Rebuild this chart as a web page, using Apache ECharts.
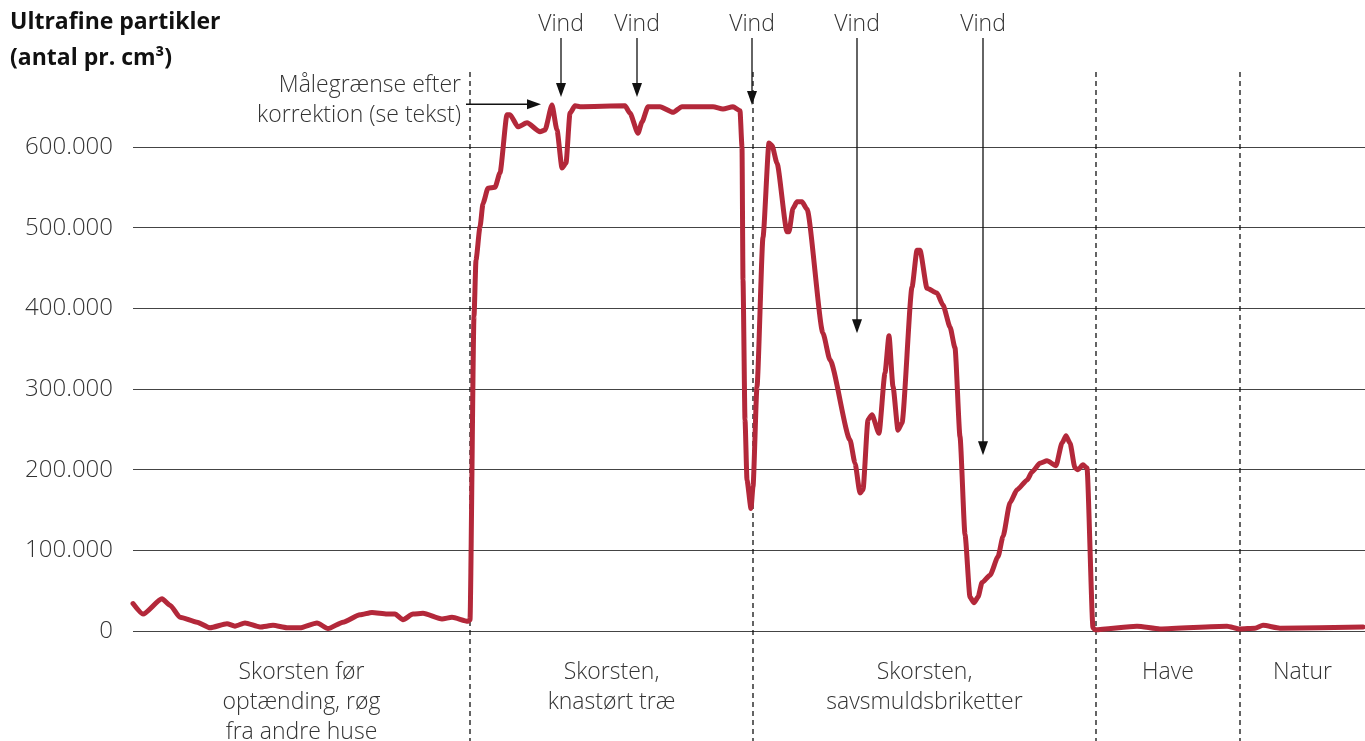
<!DOCTYPE html>
<html>
<head>
<meta charset="utf-8">
<script src="https://cdn.jsdelivr.net/npm/echarts@6/dist/echarts.min.js"></script>
<style>
html,body{margin:0;padding:0;background:#fff}
#chart{width:1365px;height:741px}
</style>
</head>
<body>
<div id="chart"></div>
<script>
// tid (vilkaarlig enhed langs x) og partikler (tusinder pr. cm3)
var timeX = [0,10,29,37,47,64,77,94,102,112,127,140,154,167,184,195,210,227,239,254,262,270,280,290,309,319,335,
  337,341,343,347,350,355,362,367,374,377,385,394,407,412,419,424,429,433,437,442,447,492,497,505,509,515,527,540,549,580,590,600,607,609,610,612,614,618,620,624,630,636,639,644,654,656,660,664,669,674,690,697,717,722,727,730,735,739,746,752,756,760,765,769,779,784,787,794,804,810,817,822,827,832,837,841,845,849,857,865,870,877,884,894,899,907,914,923,929,933,937,942,945,950,954,960,962,1004,1027,1094,1107,1122,1130,1147,1230];
var particles = [34,21,40,32,17,11,4,9,6,10,5,7,4,4,10,3,11,20,23,21,21,14,21,22,15,17,12,
  14,390,460,501,530,549,550,568,640,640,625,630,619,621,652,621,574,580,642,651,650,651,642,617,631,650,650,643,650,650,647,650,645,600,435,262,187,152,179,303,488,605,602,580,495,495,524,532,532,523,369,336,237,208,171,175,262,268,245,320,366,303,249,258,426,472,472,425,419,404,377,351,241,120,42,35,42,60,69,92,117,159,175,187,197,208,211,205,233,242,233,202,200,206,202,4,1.5,6,2.5,6,2.5,3.5,7,3.5,5];

var yTicks = [0,100000,200000,300000,400000,500000,600000];
var sectionBounds = [0,337,620,963,1107,1232];
var sectionLabels = ['Skorsten før\noptænding, røg\nfra andre huse','Skorsten,\nknastørt træ','Skorsten,\nsavsmuldsbriketter','Have','Natur'];
var vindX = [428,504,619,724,850];
var vindTip = [662000,662000,652000,369000,218000];
var limitArrow = {from:333, to:408, value:653000};

var lineData = timeX.map(function(t,i){ return [t, particles[i]*1000]; });

var chart = echarts.init(document.getElementById('chart'));
var FONT = '"Open Sans", Lato, sans-serif';

var option = {
  animation:false,
  grid:{left:133,right:0,top:147,bottom:110},
  xAxis:{type:'value',min:0,max:1232,show:false},
  yAxis:{
    type:'value',min:0,max:600000,interval:100000,
    axisLine:{show:false},axisTick:{show:false},
    axisLabel:{margin:20,color:'#333',fontSize:24,fontWeight:300,fontFamily:FONT,
      formatter:function(v){ return v===0 ? '0' : (v/1000)+'.000'; }},
    splitLine:{lineStyle:{color:'#444',width:1}}
  },
  series:[{
    type:'line',data:lineData,showSymbol:false,clip:false,
    smooth:0.2,smoothMonotone:'x',
    lineStyle:{color:'#B3283A',width:5,join:'round',cap:'round'}
  }]
};
chart.setOption(option);

// annotationer
var g = [];
function px(x,y){ return chart.convertToPixel({gridIndex:0},[x,y]); }

g.push({type:'text',style:{text:'Ultrafine partikler',x:10,y:22,fontSize:23,fontWeight:'bold',fontFamily:FONT,fill:'#111',verticalAlign:'middle'}});
g.push({type:'text',style:{text:'(antal pr. cm³)',x:10,y:58,fontSize:23,fontWeight:'bold',fontFamily:FONT,fill:'#111',verticalAlign:'middle'}});

// skillelinjer
for(var i=1;i<sectionBounds.length-1;i++){
  var p = px(sectionBounds[i],0);
  g.push({type:'line',shape:{x1:p[0],y1:72,x2:p[0],y2:741},style:{stroke:'#111',lineWidth:1.3,lineDash:[5,4]}});
}
// sektionsetiketter
for(var j=0;j<sectionLabels.length;j++){
  var c = px((sectionBounds[j]+sectionBounds[j+1])/2,0);
  g.push({type:'text',style:{text:sectionLabels[j],x:c[0],y:657,align:'center',verticalAlign:'top',fontSize:23,fontWeight:300,lineHeight:30,fontFamily:FONT,fill:'#333'}});
}
// vind-pile
vindX.forEach(function(vx,k){
  var tip = px(vx,vindTip[k]);
  g.push({type:'text',style:{text:'Vind',x:tip[0],y:24,align:'center',verticalAlign:'middle',fontSize:23,fontWeight:300,fontFamily:FONT,fill:'#333'}});
  g.push({type:'line',shape:{x1:tip[0],y1:38,x2:tip[0],y2:tip[1]-10},style:{stroke:'#111',lineWidth:1.3}});
  g.push({type:'polygon',shape:{points:[[tip[0]-5,tip[1]-14],[tip[0]+5,tip[1]-14],[tip[0],tip[1]]]},style:{fill:'#111'}});
});
// maalegraense-pil
var a0 = px(limitArrow.from,limitArrow.value), a1 = px(limitArrow.to,limitArrow.value);
g.push({type:'line',shape:{x1:a0[0],y1:a0[1],x2:a1[0]-10,y2:a1[1]},style:{stroke:'#111',lineWidth:1.3}});
g.push({type:'polygon',shape:{points:[[a1[0]-14,a1[1]-5],[a1[0]-14,a1[1]+5],[a1[0],a1[1]]]},style:{fill:'#111'}});
g.push({type:'text',style:{text:'Målegrænse efter\nkorrektion (se tekst)',x:461,y:100,align:'right',verticalAlign:'middle',fontSize:23,fontWeight:300,lineHeight:30,fontFamily:FONT,fill:'#333'}});

chart.setOption({graphic:g});
</script>
</body>
</html>
